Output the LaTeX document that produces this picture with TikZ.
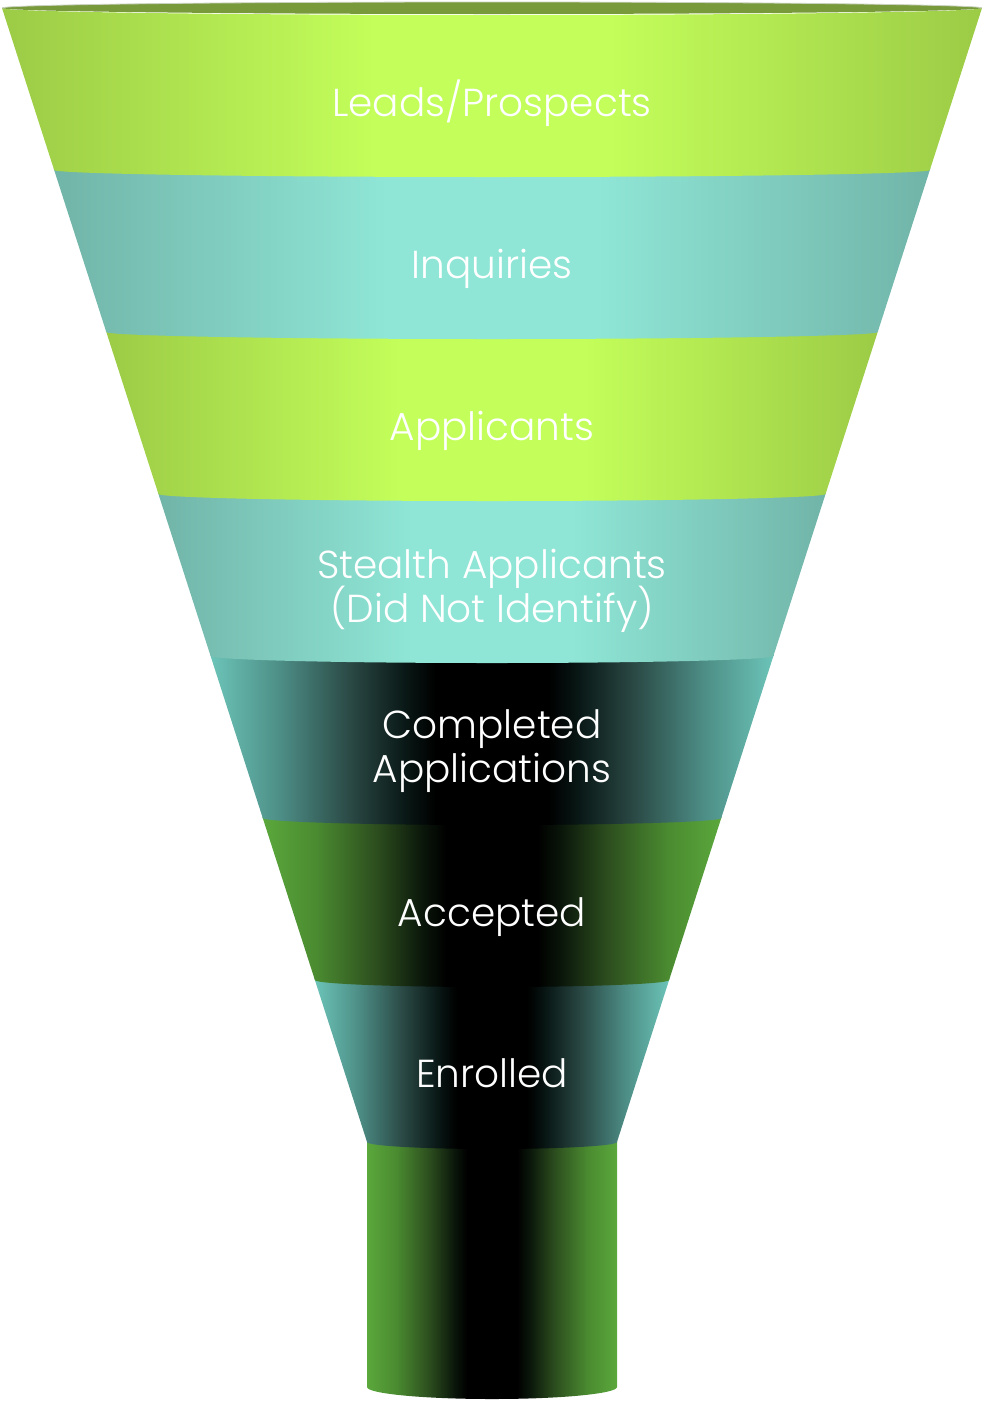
\documentclass[tikz,border=0pt]{standalone}
\usepackage{fontspec}
\setmainfont{Poppins}[UprightFont=* Light]
\definecolor{gEdge}{HTML}{9CCB46}
\definecolor{gMid}{HTML}{C3FE5A}
\definecolor{tEdge}{HTML}{71B4A8}
\definecolor{tMid}{HTML}{8FE6D6}
\definecolor{dtEdge}{HTML}{6CC4B8}
\definecolor{dtA}{HTML}{4E9088}
\definecolor{dtB}{HTML}{2A4844}
\definecolor{dtC}{HTML}{081614}
\definecolor{dgEdge}{HTML}{5BA83C}
\definecolor{dgA}{HTML}{4A8A30}
\definecolor{dgB}{HTML}{2C4D1E}
\definecolor{dgC}{HTML}{0A160A}
\definecolor{rimC}{HTML}{789A3B}
\definecolor{rimTop}{HTML}{C9D1BF}
\pgfdeclarehorizontalshading{greenS}{100bp}{color(0bp)=(gEdge); color(25bp)=(gEdge); color(44bp)=(gMid); color(56bp)=(gMid); color(75bp)=(gEdge); color(100bp)=(gEdge)}
\pgfdeclarehorizontalshading{tealS}{100bp}{color(0bp)=(tEdge); color(25bp)=(tEdge); color(44bp)=(tMid); color(56bp)=(tMid); color(75bp)=(tEdge); color(100bp)=(tEdge)}
\pgfdeclarehorizontalshading{dtealS}{100bp}{color(0bp)=(dtEdge); color(25bp)=(dtEdge); color(31bp)=(dtA); color(37.5bp)=(dtB); color(42.5bp)=(dtC); color(45bp)=(black); color(55bp)=(black); color(57.5bp)=(dtC); color(62.5bp)=(dtB); color(69bp)=(dtA); color(75bp)=(dtEdge); color(100bp)=(dtEdge)}
\pgfdeclarehorizontalshading{dgreenS}{100bp}{color(0bp)=(dgEdge); color(25bp)=(dgEdge); color(31bp)=(dgA); color(37.5bp)=(dgB); color(42.5bp)=(dgC); color(45bp)=(black); color(55bp)=(black); color(57.5bp)=(dgC); color(62.5bp)=(dgB); color(69bp)=(dgA); color(75bp)=(dgEdge); color(100bp)=(dgEdge)}
\newcommand\fband[4]{%
  \pgfmathsetmacro\ya{#1-#4}%
  \pgfmathsetmacro\xa{2+0.3219*(\ya-8)}%
  \pgfmathsetmacro\xb{2+0.3219*(#2-8)}%
  \pgfmathsetmacro\ra{492-\xa}%
  \pgfmathsetmacro\rb{492-\xb}%
  \pgfmathsetmacro\xc{984-\xa}%
  \shade[shading=#3] (\xa,-\ya) -- (\xb,-#2) arc[start angle=180,end angle=360,x radius=\rb,y radius=7] -- (\xc,-\ya) arc[start angle=0,end angle=-180,x radius=\ra,y radius=7] -- cycle;%
}
\begin{document}
\begin{tikzpicture}[x=1pt,y=1pt,
  lbl/.style={text=white, font=\fontsize{39}{44}\selectfont, anchor=base, inner sep=0pt}]
\useasboundingbox (0,0) rectangle (983,-1401);
% stem
\shade[shading=dgreenS] (367,-1140.5) -- (367,-1387) arc[start angle=180,end angle=360,x radius=125,y radius=12] -- (617,-1140.5) arc[start angle=0,end angle=-180,x radius=125,y radius=7] -- cycle;
% bands, bottom to top
\fband{980}{1142}{dtealS}{1.5}
\fband{818}{980}{dgreenS}{1.5}
\fband{656}{818}{dtealS}{1.5}
\fband{494}{656}{tealS}{1.5}
\fband{332}{494}{greenS}{1.5}
\fband{170}{332}{tealS}{1.5}
\fband{8}{170}{greenS}{0}
% rim
\fill[rimC] (492,-8) ellipse[x radius=490, y radius=6];
\draw[rimTop, line width=0.8] (2,-8) arc[start angle=180,end angle=0,x radius=490,y radius=6];
% labels
\node[lbl] (leads) at (492,-116) {Leads/Prospects};
\node[lbl] (inq) at (492,-278) {Inquiries};
\node[lbl] (appl) at (492,-440) {Applicants};
\node[lbl] (st1) at (492,-578) {Stealth Applicants};
\node[lbl] (st2) at (492,-622) {(Did Not Identify)};
\node[lbl] (ca1) at (492,-738) {Completed};
\node[lbl] (ca2) at (492,-782) {Applications};
\node[lbl] (acc) at (492,-926) {Accepted};
\node[lbl] (enr) at (492,-1087) {Enrolled};
\end{tikzpicture}
\end{document}
